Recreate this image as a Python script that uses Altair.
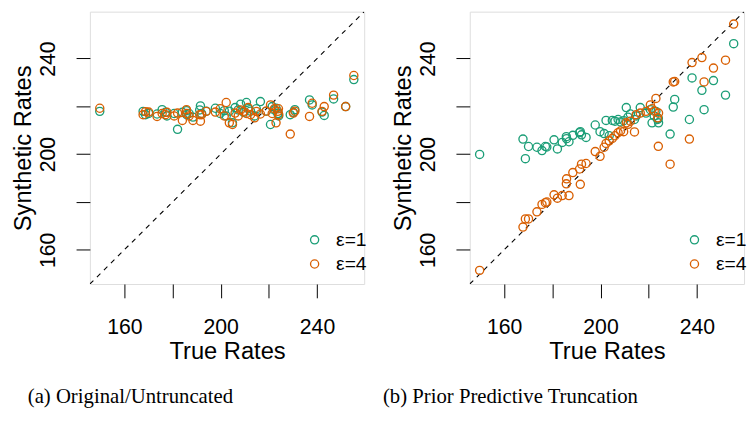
import altair as alt
import pandas as pd

# ---- data ----
true_rates = [149.8, 167.8, 168.8, 170.1, 173.6, 175.7, 177.1, 177.7, 180.7, 182.1,
              184.1, 185.8, 185.9, 186.9, 188.5, 191.3, 191.6, 192.1, 194.0, 197.8,
              199.8, 201.5, 202.3, 203.6, 204.9, 206.0, 207.3, 208.3, 209.6, 210.7,
              211.4, 212.4, 214.1, 214.8, 216.5, 218.9, 220.7, 221.4, 222.3, 223.0,
              223.7, 224.0, 224.1, 228.9, 230.2, 230.8, 236.9, 238.0, 242.1, 243.0,
              246.9, 251.9, 255.3]

orig_eps1 = [217.9, 217.9, 216.5, 217.0, 216.8, 218.6, 217.5, 216.0, 217.0, 210.4,
             217.5, 218.2, 216.5, 217.0, 215.5, 218.5, 220.2, 217.0, 218.0, 219.2,
             217.0, 218.2, 216.0, 218.0, 213.1, 219.5, 218.5, 220.9, 217.5, 221.6,
             219.0, 218.0, 216.0, 219.0, 222.0, 218.0, 212.4, 219.9, 218.5, 219.2,
             217.0, 217.0, 216.0, 216.5, 217.5, 218.6, 222.7, 220.6, 217.6, 216.2,
             223.1, 219.9, 231.2]

orig_eps4 = [219.2, 216.5, 217.8, 217.6, 215.8, 217.0, 216.5, 217.5, 216.0, 217.2,
             214.1, 218.6, 217.0, 216.0, 214.1, 216.5, 213.8, 216.5, 217.9, 217.6,
             219.0, 216.0, 221.6, 213.1, 212.4, 217.2, 216.0, 218.5, 217.9, 217.0,
             219.5, 216.5, 215.2, 217.9, 216.8, 218.0, 220.6, 217.0, 219.0, 213.1,
             217.9, 219.0, 216.5, 208.4, 217.2, 218.0, 215.8, 221.3, 217.9, 219.9,
             224.7, 219.9, 232.9]

trunc_eps1 = [199.9, 206.3, 198.1, 203.2, 202.9, 201.5, 203.2, 203.0, 206.0, 202.2,
              204.9, 207.3, 206.5, 205.2, 207.9, 209.0, 209.4, 208.1, 207.0, 212.2,
              209.4, 208.6, 214.1, 207.7, 214.1, 213.8, 214.5, 213.5, 214.0, 219.5,
              215.5, 216.8, 214.5, 216.0, 219.5, 217.2, 218.6, 213.1, 216.0, 217.9,
              214.5, 215.0, 213.1, 208.4, 219.7, 222.9, 214.5, 231.9, 226.7, 218.6,
              230.8, 224.7, 246.2]

trunc_eps4 = [151.4, 169.5, 172.9, 172.9, 175.9, 179.0, 179.7, 180.0, 183.0, 181.6,
              182.7, 187.6, 189.7, 182.7, 192.3, 193.8, 187.4, 195.8, 196.1, 201.1,
              199.1, 202.9, 204.5, 205.6, 206.6, 207.7, 209.0, 209.7, 209.4, 213.1,
              212.5, 213.8, 209.3, 216.5, 217.2, 217.9, 220.6, 219.0, 218.0, 223.3,
              215.2, 203.3, 217.2, 195.8, 230.2, 230.4, 206.3, 238.3, 240.4, 230.2,
              236.0, 239.3, 254.4]

eps_labels = ["ε=1", "ε=4"]
eps_colors = ["#1B9E77", "#D95F02"]
captions = ["(a) Original/Untruncated", "(b) Prior Predictive Truncation"]
tick_values = [160, 180, 200, 220, 240]
axis_range = [145.7, 259.6]

SANS = "Liberation Sans"
SERIF = "Liberation Serif"
W, H = 278, 276


def long_table(e1, e4):
    rows = [{"x": x, "y": y, "eps": eps_labels[0]} for x, y in zip(true_rates, e1)]
    rows += [{"x": x, "y": y, "eps": eps_labels[1]} for x, y in zip(true_rates, e4)]
    return pd.DataFrame(rows)


diag = pd.DataFrame({"x": axis_range, "y": axis_range})


def panel(df, caption, dx):
    sc = alt.Scale(domain=axis_range, nice=False, zero=False)
    common = dict(values=tick_values,
                  labelExpr="datum.value % 40 == 0 ? datum.label : ''",
                  grid=False, domain=False, tickSize=14, tickColor="black",
                  tickWidth=1, labelFont=SANS, labelFontSize=21.5,
                  labelColor="black", labelFlush=False, labelOverlap=False,
                  titleFont=SANS, titleFontSize=24, titleFontWeight="normal",
                  titleColor="black", titleBaseline="middle")
    xax = alt.Axis(title="True Rates", labelPadding=19, titleY=69, **common)
    yax = alt.Axis(title="Synthetic Rates", labelAngle=270, labelAlign="center",
                   labelBaseline="alphabetic", labelPadding=22, titleX=-67,
                   titleAngle=270, **common)
    line = alt.Chart(diag).mark_line(color="black", strokeDash=[5, 5],
                                     strokeWidth=1.1, clip=True).encode(
        x=alt.X("x:Q", scale=sc, axis=xax),
        y=alt.Y("y:Q", scale=sc, axis=yax),
    )
    pts = alt.Chart(df).mark_point(shape="circle", filled=False, size=68,
                                   strokeWidth=1.35, opacity=1).encode(
        x=alt.X("x:Q", scale=sc),
        y=alt.Y("y:Q", scale=sc),
        color=alt.Color("eps:N",
                        scale=alt.Scale(domain=eps_labels, range=eps_colors),
                        legend=alt.Legend(title=None, orient="none",
                                          legendX=218, legendY=221.5,
                                          padding=0, labelFont=SANS,
                                          labelFontSize=19.5, labelColor="black",
                                          labelOffset=12, rowPadding=3.5,
                                          symbolSize=68, symbolStrokeWidth=1.35,
                                          symbolType="circle")),
        order=alt.Order("eps:N"),
    )
    return alt.layer(line, pts).properties(
        width=W, height=H,
        title=alt.TitleParams(caption, orient="bottom", anchor="start",
                              frame="group", dx=dx, offset=23, font=SERIF,
                              fontSize=21, fontWeight="normal", color="black"),
    )


left = panel(long_table(orig_eps1, orig_eps4), captions[0], -63)
right = panel(long_table(trunc_eps1, trunc_eps4), captions[1], -88)

chart = alt.hconcat(left, right, spacing=107, bounds="flush").resolve_scale(
    color="independent"
).resolve_legend(color="independent").properties(
    padding={"left": 3, "top": 0, "right": 0, "bottom": 0}
).configure_view(stroke="black", strokeWidth=1.1).configure(background="white")

chart.save("out.html", embed_options={"renderer": "svg", "actions": False})
